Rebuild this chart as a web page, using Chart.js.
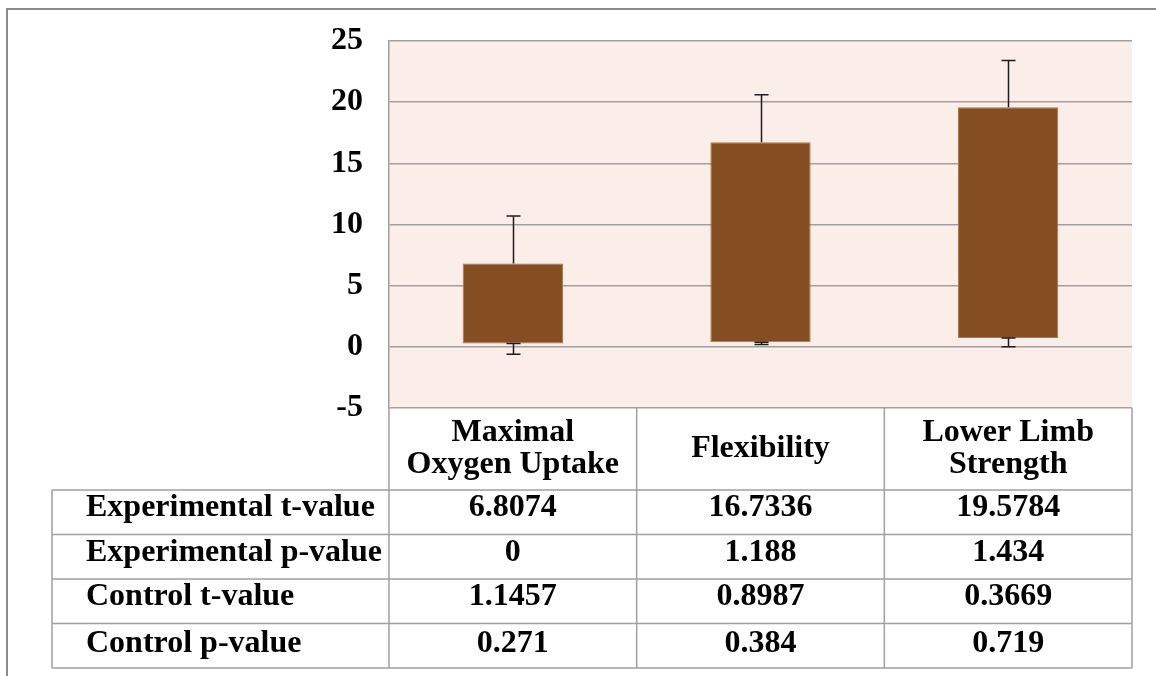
<!DOCTYPE html>
<html>
<head>
<meta charset="utf-8">
<title>t-test results by fitness measure</title>
<script src="https://cdn.jsdelivr.net/npm/chart.js@4/dist/chart.umd.min.js"></script>
<style>
  html, body { margin: 0; padding: 0; background: #ffffff; }
  #wrap { position: relative; width: 1156px; height: 676px; }
  canvas { display: block; }
</style>
</head>
<body>
<div id="wrap"><canvas id="chart" width="1156" height="676"></canvas></div>
<script>
// Fitness measures (table columns / bar categories)
const categories = [
  ['Maximal', 'Oxygen Uptake'],
  ['Flexibility'],
  ['Lower Limb', 'Strength']
];

// Table series
const rowLabels = [
  'Experimental t-value',
  'Experimental p-value',
  'Control t-value',
  'Control p-value'
];
const experimentalT = [6.8074, 16.7336, 19.5784];
const experimentalP = [0, 1.188, 1.434];
const controlT = [1.1457, 0.8987, 0.3669];
const controlP = [0.271, 0.384, 0.719];

// Error bar whisker ends
const whiskerTop = [10.7, 20.6, 23.4];
const whiskerBottom = [-0.6, 0.2, 0.0];

// Value axis ticks
const yTicks = [-5, 0, 5, 10, 15, 20, 25];

const rowValues = [experimentalT, experimentalP, controlT, controlP];

const FONT_FAMILY = '"Liberation Serif", "Times New Roman", serif';
const FONT = 'bold 32px ' + FONT_FAMILY;
const LINE = '#a0a0a0';

// Chart frame, plot background
const framePlugin = {
  id: 'frame',
  beforeDraw(chart) {
    const { ctx, chartArea: a } = chart;
    ctx.save();
    ctx.fillStyle = '#ffffff';
    ctx.fillRect(0, 0, chart.width, chart.height);
    ctx.fillStyle = '#fbede8';
    ctx.fillRect(a.left, a.top, a.right - a.left, a.bottom - a.top);
    ctx.strokeStyle = '#8a8a8a';
    ctx.lineWidth = 2;
    ctx.beginPath();
    ctx.moveTo(7, chart.height);
    ctx.lineTo(7, 9);
    ctx.lineTo(chart.width, 9);
    ctx.stroke();
    ctx.restore();
  }
};

// Whiskers above the bar tops and below the bar bottoms
const errorBarPlugin = {
  id: 'errorBars',
  afterDatasetsDraw(chart) {
    const { ctx } = chart;
    const y = chart.scales.y;
    const meta = chart.getDatasetMeta(0);
    ctx.save();
    ctx.strokeStyle = '#1e1e1e';
    ctx.lineWidth = 1.5;
    const cap = 7;
    meta.data.forEach((bar, i) => {
      const x = Math.round(bar.x) + 0.5;
      const top = y.getPixelForValue(experimentalT[i]);
      const wTop = y.getPixelForValue(whiskerTop[i]);
      const low = y.getPixelForValue(controlP[i]);
      const wLow = y.getPixelForValue(whiskerBottom[i]);
      ctx.beginPath();
      ctx.moveTo(x, top);
      ctx.lineTo(x, wTop);
      ctx.moveTo(x - cap, wTop);
      ctx.lineTo(x + cap, wTop);
      ctx.moveTo(x, low);
      ctx.lineTo(x, wLow);
      ctx.moveTo(x - cap, low);
      ctx.lineTo(x + cap, low);
      ctx.moveTo(x - cap, wLow);
      ctx.lineTo(x + cap, wLow);
      ctx.stroke();
    });
    ctx.restore();
  }
};

// Data table under the plot, columns aligned to the category scale
const dataTablePlugin = {
  id: 'dataTable',
  afterDraw(chart) {
    const { ctx, chartArea: a } = chart;
    const xs = chart.scales.x;
    const tableLeft = 52;
    const headerTop = a.bottom;
    const headerBottom = 490;
    const rowH = 44.5;
    const tableBottom = headerBottom + rowH * rowLabels.length;
    const n = categories.length;
    const colW = (a.right - a.left) / n;

    ctx.save();
    ctx.strokeStyle = LINE;
    ctx.lineWidth = 1.5;
    ctx.beginPath();
    // horizontal rules
    for (let r = 0; r <= rowLabels.length; r++) {
      const yy = headerBottom + r * rowH;
      ctx.moveTo(tableLeft, yy);
      ctx.lineTo(a.right, yy);
    }
    // vertical rules
    ctx.moveTo(tableLeft, headerBottom);
    ctx.lineTo(tableLeft, tableBottom);
    for (let c = 0; c <= n; c++) {
      const xx = a.left + c * colW;
      ctx.moveTo(xx, headerTop);
      ctx.lineTo(xx, tableBottom);
    }
    ctx.stroke();

    ctx.fillStyle = '#000000';
    ctx.font = FONT;
    ctx.textBaseline = 'alphabetic';

    // column headings
    ctx.textAlign = 'center';
    const headCenter = 447;
    const lh = 32;
    categories.forEach((lines, i) => {
      const cx = xs.getPixelForValue(i);
      lines.forEach((t, k) => {
        const yy = headCenter + (k - (lines.length - 1) / 2) * lh + 10;
        ctx.fillText(t, cx, yy);
      });
    });

    // rows
    rowLabels.forEach((label, r) => {
      const base = headerBottom + r * rowH + 26 + (r === rowLabels.length - 1 ? 2 : 0);
      ctx.textAlign = 'left';
      ctx.fillText(label, 86, base);
      ctx.textAlign = 'center';
      rowValues[r].forEach((v, i) => {
        ctx.fillText(String(v), xs.getPixelForValue(i), base);
      });
    });
    ctx.restore();
  }
};

new Chart(document.getElementById('chart'), {
  type: 'bar',
  data: {
    labels: categories.map(l => l.join(' ')),
    datasets: [{
      label: 'Experimental t-value to Control p-value',
      data: categories.map((_, i) => [controlP[i], experimentalT[i]]),
      backgroundColor: '#844e22',
      borderColor: '#a87a55',
      borderWidth: 1,
      borderSkipped: false,
      barPercentage: 0.405,
      categoryPercentage: 1
    }]
  },
  options: {
    responsive: false,
    animation: false,
    events: [],
    layout: { padding: { top: 41, right: 24, bottom: 268, left: 0 } },
    plugins: {
      legend: { display: false },
      tooltip: { enabled: false },
      title: { display: false }
    },
    scales: {
      x: { display: false, offset: true },
      y: {
        min: yTicks[0],
        max: yTicks[yTicks.length - 1],
        afterFit(scale) { scale.width = 389; },
        afterBuildTicks(scale) { scale.ticks = yTicks.map(v => ({ value: v })); },
        ticks: {
          color: '#000000',
          padding: 0,
          font: { family: FONT_FAMILY, weight: 'bold', size: 32 }
        },
        grid: { color: LINE, lineWidth: 1.5, drawTicks: true, tickLength: 26, tickColor: 'rgba(0,0,0,0)' },
        border: { display: true, color: LINE, width: 1.5 }
      }
    }
  },
  plugins: [framePlugin, errorBarPlugin, dataTablePlugin]
});
</script>
</body>
</html>
